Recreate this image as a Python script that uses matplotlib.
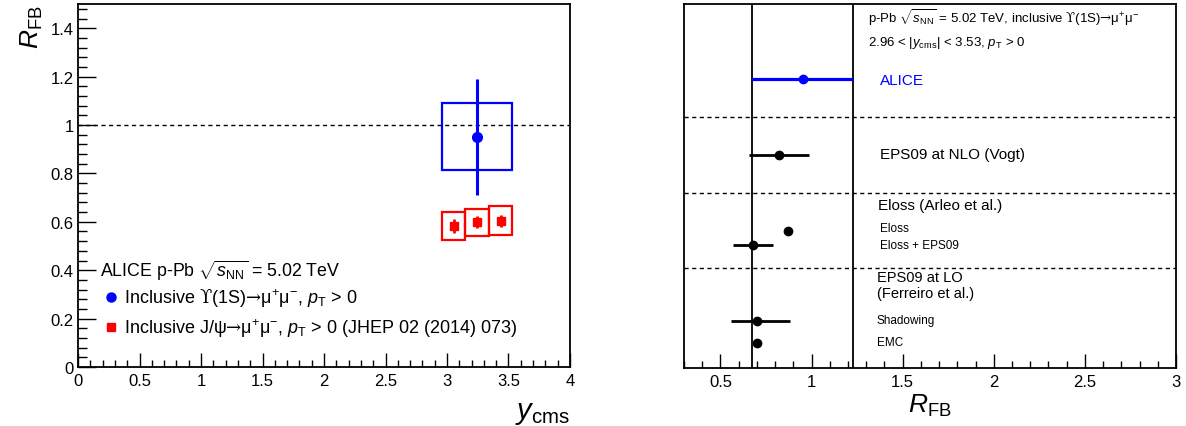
import numpy as np
import matplotlib.pyplot as plt
from matplotlib.patches import Rectangle
from matplotlib.lines import Line2D
from matplotlib.ticker import MultipleLocator, FuncFormatter

plt.rcParams['font.family'] = ['Liberation Sans', 'DejaVu Sans']
plt.rcParams['mathtext.fontset'] = 'custom'
plt.rcParams['mathtext.rm'] = 'Liberation Sans'
plt.rcParams['mathtext.it'] = 'Liberation Sans:italic'
plt.rcParams['mathtext.bf'] = 'Liberation Sans:bold'
plt.rcParams['mathtext.sf'] = 'DejaVu Serif'

# Upsilon(1S) R_FB (ALICE)
ups_y = [3.245]
ups_ylo = [2.96]
ups_yhi = [3.53]
ups_r = [0.952]
ups_stat = [0.24]
ups_sys = [0.139]

# J/psi R_FB (JHEP 02 (2014) 073)
jpsi_ylo = [2.96, 3.15, 3.34]
jpsi_yhi = [3.15, 3.34, 3.53]
jpsi_r = [0.582, 0.598, 0.605]
jpsi_stat = [0.028, 0.025, 0.025]
jpsi_sys = [0.058, 0.055, 0.059]

# right panel: ALICE vs models
alice_r = 0.952
alice_err = 0.277
model_names = ['EPS09 NLO', 'Eloss', 'Eloss + EPS09', 'Shadowing', 'EMC']
model_r = [0.82, 0.871, 0.679, 0.703, 0.703]
model_lo = [0.165, 0.0, 0.11, 0.143, 0.0]
model_hi = [0.165, 0.0, 0.107, 0.177, 0.0]

UPS = r'$\mathsf{ϒ}$'
MUMU = r'$\mathsf{→}\mathrm{\mu^{+}\mu^{-}}$'
fmt = FuncFormatter(lambda v, p: f'{v:g}')

fig = plt.figure(figsize=(11.86, 4.27), dpi=100)

# ---------------- left panel
ax = fig.add_axes([0.0658, 0.1382, 0.4148, 0.8501])
ax.set_xlim(0, 4)
ax.set_ylim(0, 1.5)
ax.axhline(1.0, color='black', lw=1, ls=(0, (3, 2.5)))

for xl, xh, r, s in zip(ups_ylo, ups_yhi, ups_r, ups_sys):
    ax.add_patch(Rectangle((xl, r - s), xh - xl, 2 * s, fill=False,
                           edgecolor='#0000ff', lw=1.6))
ax.errorbar(ups_y, ups_r, yerr=ups_stat, fmt='o', color='#0000ff',
            ms=7, elinewidth=2.2, capsize=0)

jx = [(a + b) / 2 for a, b in zip(jpsi_ylo, jpsi_yhi)]
for xl, xh, r, s in zip(jpsi_ylo, jpsi_yhi, jpsi_r, jpsi_sys):
    ax.add_patch(Rectangle((xl, r - s), xh - xl, 2 * s, fill=False,
                           edgecolor='#ff0000', lw=1.6))
ax.errorbar(jx, jpsi_r, yerr=jpsi_stat, fmt='s', color='#ff0000',
            ms=5.5, elinewidth=2, capsize=0)

ax.xaxis.set_major_locator(MultipleLocator(0.5))
ax.xaxis.set_minor_locator(MultipleLocator(0.1))
ax.yaxis.set_major_locator(MultipleLocator(0.2))
ax.yaxis.set_minor_locator(MultipleLocator(0.04))
ax.tick_params(which='both', direction='in', labelsize=12, width=1)
ax.tick_params(axis='x', which='major', length=10, pad=4)
ax.tick_params(axis='x', which='minor', length=5)
ax.tick_params(axis='y', which='major', length=13, pad=3)
ax.tick_params(axis='y', which='minor', length=6.5)
ax.xaxis.set_major_formatter(fmt)
ax.yaxis.set_major_formatter(fmt)
for sp in ax.spines.values():
    sp.set_linewidth(1.3)

ax.set_ylabel(r'$R_{\mathrm{FB}}$', fontsize=19, loc='top')
ax.yaxis.set_label_coords(-0.068, 1.0)
ax.set_xlabel(r'$y_{\mathrm{cms}}$', fontsize=21, loc='right')
ax.xaxis.set_label_coords(1.0, -0.085)

ax.text(0.045, 0.267, r'ALICE p-Pb $\sqrt{s_{\mathrm{NN}}}$ = 5.02 TeV',
        transform=ax.transAxes, fontsize=12.8, va='center')
handles = [Line2D([], [], ls='none', marker='o', color='#0000ff', ms=6.5),
           Line2D([], [], ls='none', marker='s', color='#ff0000', ms=6)]
labels = ['Inclusive ' + UPS + '(1S)' + MUMU + r', $p_{\mathrm{T}}$ > 0',
          'Inclusive J/ψ' + MUMU + r', $p_{\mathrm{T}}$ > 0 (JHEP 02 (2014) 073)']
leg = ax.legend(handles, labels, loc='lower left', bbox_to_anchor=(0.053, 0.077),
                frameon=False, fontsize=13, handlelength=0.8, handletextpad=0.3,
                labelspacing=0.4, borderaxespad=0, borderpad=0)

# ---------------- right panel
bx = fig.add_axes([0.5767, 0.1358, 0.4149, 0.8525])
bx.set_xlim(0.3, 3.0)
bx.set_ylim(0, 1)
bx.set_yticks([])

row_y = [0.584, 0.377, 0.339, 0.129, 0.069]
alice_y = 0.793
sep_y = [0.689, 0.482, 0.275]

for s in sep_y:
    bx.axhline(s, color='black', lw=1, ls=(0, (3, 2.5)))
bx.axvline(alice_r - alice_err, color='black', lw=1.3)
bx.axvline(alice_r + alice_err, color='black', lw=1.3)

bx.errorbar([alice_r], [alice_y], xerr=[[alice_err], [alice_err]], fmt='o',
            color='#0000ff', ms=6, elinewidth=2.3, capsize=0)
bx.errorbar(model_r, row_y, xerr=[model_lo, model_hi], fmt='o', color='black',
            ms=6, elinewidth=2, capsize=0)

bx.xaxis.set_major_locator(MultipleLocator(0.5))
bx.xaxis.set_minor_locator(MultipleLocator(0.1))
bx.tick_params(which='both', direction='in', labelsize=12, width=1)
bx.tick_params(axis='x', which='major', length=10, pad=4)
bx.tick_params(axis='x', which='minor', length=5)
bx.xaxis.set_major_formatter(fmt)
for sp in bx.spines.values():
    sp.set_linewidth(1.3)
bx.set_xlabel(r'$R_{\mathrm{FB}}$', fontsize=19, labelpad=2)

tx = bx.transAxes
bx.text(0.375, 0.965, r'p-Pb $\sqrt{s_{\mathrm{NN}}}$ = 5.02 TeV, inclusive ' + UPS + '(1S)' + MUMU,
        transform=tx, fontsize=9.5, va='center')
bx.text(0.375, 0.895, r'2.96 < |$y_{\mathrm{cms}}$| < 3.53, $p_{\mathrm{T}}$ > 0',
        transform=tx, fontsize=9.5, va='center')
bx.text(0.398, 0.790, 'ALICE', transform=tx, fontsize=11, color='#0000ff', va='center')
bx.text(0.398, 0.587, 'EPS09 at NLO (Vogt)', transform=tx, fontsize=11, va='center')
bx.text(0.395, 0.447, 'Eloss (Arleo et al.)', transform=tx, fontsize=11, va='center')
bx.text(0.398, 0.386, 'Eloss', transform=tx, fontsize=8.5, va='center')
bx.text(0.398, 0.337, 'Eloss + EPS09', transform=tx, fontsize=8.5, va='center')
bx.text(0.392, 0.25, 'EPS09 at LO', transform=tx, fontsize=10.5, va='center')
bx.text(0.392, 0.207, '(Ferreiro et al.)', transform=tx, fontsize=10.5, va='center')
bx.text(0.392, 0.132, 'Shadowing', transform=tx, fontsize=8.5, va='center')
bx.text(0.392, 0.071, 'EMC', transform=tx, fontsize=8.5, va='center')

fig.savefig('out.png', dpi=100)
